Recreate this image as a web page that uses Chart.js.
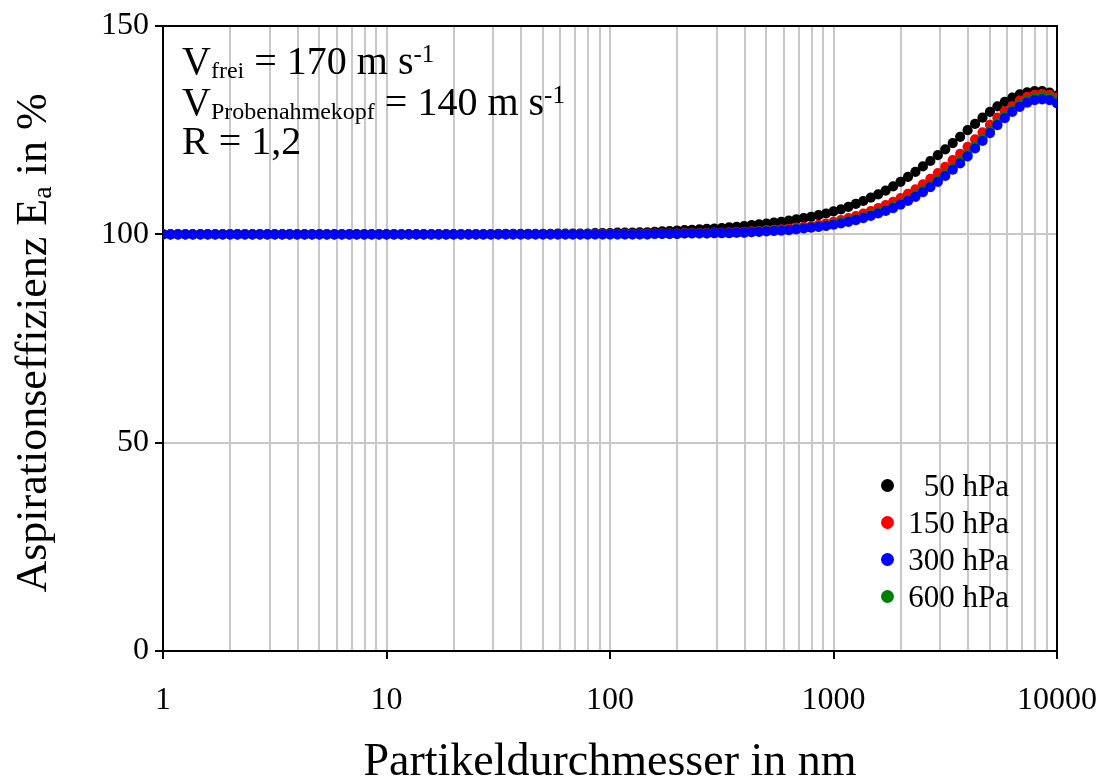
<!DOCTYPE html>
<html>
<head>
<meta charset="utf-8">
<script src="https://cdn.jsdelivr.net/npm/chart.js@4/dist/chart.umd.min.js"></script>
<style>
  body { margin: 0; background: #fff; }
  #wrap { position: relative; width: 1104px; height: 781px; font-family: "Liberation Serif", "Times New Roman", serif; color: #000; }
  #wrap canvas { position: absolute; left: 0; top: 0; }
  .note { position: absolute; left: 182px; font-size: 40px; line-height: 40px; white-space: nowrap; }
  .note sub { font-size: 24px; vertical-align: -4px; }
  .note sup { font-size: 25px; vertical-align: 12px; }
  .ytitle { position: absolute; left: -263px; top: 316px; width: 600px; text-align: center; font-size: 44px; line-height: 44px; transform: rotate(-90deg); white-space: nowrap; }
  .ytitle sub { font-size: 28px; vertical-align: -5px; }
  .leg { position: absolute; left: 870px; width: 139px; height: 30px; font-size: 31px; line-height: 30px; text-align: right; white-space: nowrap; }
  .leg i { position: absolute; left: 11px; top: 8px; width: 13px; height: 13px; border-radius: 50%; }
</style>
</head>
<body>
<div id="wrap">
  <canvas id="chart" width="1104" height="781"></canvas>
  <div class="note" style="top:34px">V<sub>frei</sub> = 170 m s<sup>-1</sup></div>
  <div class="note" style="top:75px">V<sub>Probenahmekopf</sub> = 140 m s<sup>-1</sup></div>
  <div class="note" style="top:121px">R = 1,2</div>
  <div class="ytitle">Aspirationseffizienz E<sub>a</sub> in %</div>
  <div id="legend"></div>
</div>
<script>
// particle diameter in nm (30 points per decade)
const diameters = [
  1, 1.08, 1.166, 1.259, 1.359, 1.468, 1.585, 1.711, 1.848, 1.995, 2.154, 2.326, 2.512, 2.712, 2.929, 3.162, 3.415, 3.687, 3.981, 4.299, 4.642, 5.012, 5.412, 5.843, 6.31, 6.813, 7.356, 7.943, 8.577, 9.261,
  10, 10.8, 11.66, 12.59, 13.59, 14.68, 15.85, 17.11, 18.48, 19.95, 21.54, 23.26, 25.12, 27.12, 29.29, 31.62, 34.15, 36.87, 39.81, 42.99, 46.42, 50.12, 54.12, 58.43, 63.1, 68.13, 73.56, 79.43, 85.77, 92.61,
  100, 108, 116.6, 125.9, 135.9, 146.8, 158.5, 171.1, 184.8, 199.5, 215.4, 232.6, 251.2, 271.2, 292.9, 316.2, 341.5, 368.7, 398.1, 429.9, 464.2, 501.2, 541.2, 584.3, 631, 681.3, 735.6, 794.3, 857.7, 926.1,
  1000, 1080, 1166, 1259, 1359, 1468, 1585, 1711, 1848, 1995, 2154, 2326, 2512, 2712, 2929, 3162, 3415, 3687, 3981, 4299, 4642, 5012, 5412, 5843, 6310, 6813, 7356, 7943, 8577, 9261,
  10000
];

// aspiration efficiency in %
const ea50 = [
  100, 100, 100, 100, 100, 100, 100, 100, 100, 100, 100, 100, 100, 100, 100, 100, 100, 100, 100, 100, 100, 100, 100, 100, 100, 100, 100, 100, 100, 100,
  100, 100, 100, 100, 100, 100, 100, 100, 100, 100, 100, 100, 100, 100, 100, 100.1, 100.1, 100.1, 100.1, 100.1, 100.1, 100.1, 100.1, 100.2, 100.2, 100.2, 100.2, 100.2, 100.3, 100.3,
  100.3, 100.4, 100.4, 100.4, 100.5, 100.5, 100.6, 100.7, 100.8, 100.9, 101.0, 101.1, 101.2, 101.3, 101.4, 101.5, 101.7, 101.8, 102.0, 102.2, 102.4, 102.6, 102.8, 103.0, 103.3, 103.6, 103.9, 104.2, 104.6, 105.0,
  105.5, 106.0, 106.6, 107.3, 108.0, 108.8, 109.6, 110.5, 111.5, 112.6, 113.8, 115.0, 116.3, 117.6, 119.0, 120.4, 121.9, 123.4, 125.0, 126.5, 128.0, 129.4, 130.7, 131.8, 132.8, 133.6, 134.1, 134.4, 134.4, 134.0,
  133.3
];
const ea150 = [
  100, 100, 100, 100, 100, 100, 100, 100, 100, 100, 100, 100, 100, 100, 100, 100, 100, 100, 100, 100, 100, 100, 100, 100, 100, 100, 100, 100, 100, 100,
  100, 100, 100, 100, 100, 100, 100, 100, 100, 100, 100, 100, 100, 100, 100, 100, 100, 100, 100, 100, 100, 100, 100, 100, 100, 100, 100, 100, 100.1, 100.1,
  100.1, 100.1, 100.1, 100.1, 100.1, 100.1, 100.2, 100.2, 100.2, 100.2, 100.3, 100.3, 100.3, 100.3, 100.4, 100.4, 100.5, 100.6, 100.6, 100.7, 100.8, 101.0, 101.1, 101.2, 101.3, 101.6, 101.8, 102.0, 102.3, 102.6,
  103.0, 103.4, 103.9, 104.4, 105.0, 105.6, 106.3, 107.0, 107.8, 108.7, 109.7, 110.8, 112.0, 113.3, 114.7, 116.2, 117.8, 119.3, 121.0, 122.8, 124.5, 126.3, 128.0, 129.5, 130.8, 132.1, 133.0, 133.5, 133.7, 133.5,
  132.8
];
const ea300 = [
  100, 100, 100, 100, 100, 100, 100, 100, 100, 100, 100, 100, 100, 100, 100, 100, 100, 100, 100, 100, 100, 100, 100, 100, 100, 100, 100, 100, 100, 100,
  100, 100, 100, 100, 100, 100, 100, 100, 100, 100, 100, 100, 100, 100, 100, 100, 100, 100, 100, 100, 100, 100, 100, 100, 100, 100, 100, 100, 100, 100,
  100, 100, 100, 100, 100, 100, 100.1, 100.1, 100.1, 100.1, 100.2, 100.2, 100.2, 100.2, 100.3, 100.3, 100.3, 100.4, 100.4, 100.5, 100.6, 100.7, 100.8, 100.9, 101.0, 101.2, 101.4, 101.6, 101.8, 102.0,
  102.3, 102.6, 103.0, 103.4, 103.9, 104.4, 105.0, 105.6, 106.3, 107.1, 108.0, 109.0, 110.1, 111.3, 112.6, 114.0, 115.5, 117.0, 118.7, 120.6, 122.4, 124.3, 126.2, 127.9, 129.4, 130.6, 131.6, 132.2, 132.4, 132.2,
  131.4
];
const ea600 = [
  100, 100, 100, 100, 100, 100, 100, 100, 100, 100, 100, 100, 100, 100, 100, 100, 100, 100, 100, 100, 100, 100, 100, 100, 100, 100, 100, 100, 100, 100,
  100, 100, 100, 100, 100, 100, 100, 100, 100, 100, 100, 100, 100, 100, 100, 100, 100, 100, 100, 100, 100, 100, 100, 100, 100, 100, 100, 100, 100, 100,
  100, 100, 100, 100, 100, 100, 100.1, 100.1, 100.1, 100.1, 100.2, 100.2, 100.2, 100.2, 100.3, 100.3, 100.3, 100.4, 100.4, 100.5, 100.7, 100.8, 100.9, 101.0, 101.1, 101.3, 101.5, 101.7, 101.9, 102.1,
  102.5, 102.8, 103.2, 103.6, 104.1, 104.6, 105.3, 105.9, 106.6, 107.4, 108.3, 109.4, 110.5, 111.7, 113.0, 114.4, 115.9, 117.5, 119.2, 121.1, 122.9, 124.8, 126.7, 128.4, 129.9, 131.1, 132.1, 132.8, 133.0, 132.8,
  132.0
];

const seriesNames = ['50 hPa', '150 hPa', '300 hPa', '600 hPa'];
const seriesColors = ['#000000', '#ff0000', '#0000ff', '#008000'];
const seriesValues = [ea50, ea150, ea300, ea600];
const drawOrder = [3, 2, 0, 1]; // blue on top, black at the bottom

const xMajorTicks = [1, 10, 100, 1000, 10000];
const yTicks = [0, 50, 100, 150];

// all gridline positions on the log axis: 1..9 in every decade
let xGridTicks = [];
xMajorTicks.forEach((m, i) => {
  if (i == xMajorTicks.length - 1) { xGridTicks.push(m); return; }
  for (let j = 1; j < 10; j++) xGridTicks.push(m * j);
});

const datasets = seriesValues.map((vals, i) => ({
  label: seriesNames[i],
  data: diameters.map((d, k) => ({ x: d, y: vals[k] })),
  backgroundColor: seriesColors[i],
  borderColor: seriesColors[i],
  borderWidth: 0,
  pointRadius: 5.1,
  pointHoverRadius: 5.1,
  showLine: false,
  order: drawOrder[i]
}));

// black frame round the plot area (top and right side)
const framePlugin = {
  id: 'frame',
  beforeDatasetsDraw(chart) {
    const { ctx, chartArea: a } = chart;
    ctx.save();
    ctx.strokeStyle = '#000';
    ctx.lineWidth = 2;
    ctx.beginPath();
    ctx.moveTo(a.left, a.top);
    ctx.lineTo(a.right, a.top);
    ctx.lineTo(a.right, a.bottom);
    ctx.stroke();
    ctx.restore();
  }
};

const font = { family: '"Liberation Serif", "Times New Roman", serif', size: 32 };

new Chart(document.getElementById('chart'), {
  type: 'scatter',
  data: { datasets: datasets },
  plugins: [framePlugin],
  options: {
    responsive: false,
    animation: false,
    devicePixelRatio: 1,
    layout: { padding: { left: 0, top: 26, right: 47, bottom: 0 } },
    plugins: { legend: { display: false }, tooltip: { enabled: false } },
    scales: {
      x: {
        type: 'logarithmic',
        min: 1,
        max: 10000,
        afterBuildTicks: s => { s.ticks = xGridTicks.map(v => ({ value: v })); },
        afterFit: s => { s.height = 130; s.paddingLeft = 0; s.paddingRight = 0; },
        ticks: {
          autoSkip: false,
          maxRotation: 0,
          padding: 22,
          color: '#000',
          font: font,
          callback: v => xMajorTicks.includes(v) ? String(v) : ''
        },
        grid: {
          color: '#c8c8c8',
          lineWidth: 2,
          tickLength: 8,
          tickWidth: 2,
          tickColor: c => xMajorTicks.includes(c.tick && c.tick.value) ? '#000' : 'rgba(0,0,0,0)'
        },
        border: { color: '#000', width: 2 },
        title: {
          display: true,
          text: 'Partikeldurchmesser in nm',
          color: '#000',
          font: { family: font.family, size: 46, lineHeight: 0.8 },
          padding: 0
        }
      },
      y: {
        min: 0,
        max: 150,
        afterBuildTicks: s => { s.ticks = yTicks.map(v => ({ value: v })); },
        afterFit: s => { s.width = 163; },
        ticks: { padding: 6, color: '#000', font: font },
        grid: { color: '#c8c8c8', lineWidth: 2, tickLength: 8, tickWidth: 2, tickColor: '#000' },
        border: { color: '#000', width: 2 }
      }
    }
  }
});

// legend inside the plot, bottom right
const legendTops = [471, 508, 545, 582];
document.getElementById('legend').innerHTML = seriesNames.map((n, i) =>
  '<div class="leg" style="top:' + legendTops[i] + 'px"><i style="background:' + seriesColors[i] + '"></i>' + n + '</div>'
).join('');
</script>
</body>
</html>
